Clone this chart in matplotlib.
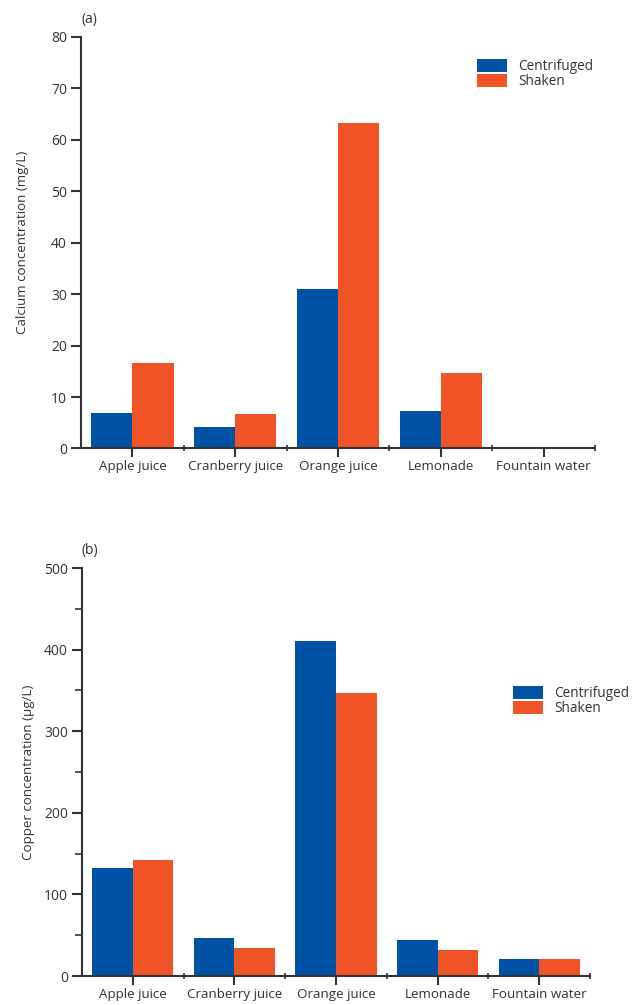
import matplotlib
matplotlib.use("Agg")
import matplotlib.pyplot as plt
import numpy as np
from matplotlib.ticker import MultipleLocator, FixedLocator

categories = ["Apple juice", "Cranberry juice", "Orange juice", "Lemonade", "Fountain water"]
series_names = ["Centrifuged", "Shaken"]
calcium_centrifuged = [6.9, 4.1, 31.1, 7.3, 0.0]
calcium_shaken = [16.7, 6.7, 63.2, 14.7, 0.0]
copper_centrifuged = [132, 47, 410, 44, 21]
copper_shaken = [142, 34, 347, 32, 21]

BLUE = "#0052A5"
ORANGE = "#F05326"
DARK = "#333333"

plt.rcParams['font.family'] = ['Open Sans', 'DejaVu Sans']
plt.rcParams['text.color'] = DARK
plt.rcParams['axes.labelcolor'] = DARK
plt.rcParams['xtick.color'] = DARK
plt.rcParams['ytick.color'] = DARK

fig = plt.figure(figsize=(6.35, 10.05), dpi=100)
W, H = 635, 1005
FS = 9.6

def ax_rect(l, r, t, b):
    return [l / W, 1 - b / H, (r - l) / W, (b - t) / H]

def draw(ax, c, s, ymax, ymajor, yminor, ylabel, panel, legend_anchor):
    x = np.arange(len(categories))
    w = 0.4
    ax.bar(x - w / 2, c, width=w, color=BLUE, label=series_names[0])
    ax.bar(x + w / 2, s, width=w, color=ORANGE, label=series_names[1])
    ax.set_xlim(-0.5, len(categories) - 0.5)
    ax.set_ylim(0, ymax)
    for sp in ["top", "right"]:
        ax.spines[sp].set_visible(False)
    for sp in ["left", "bottom"]:
        ax.spines[sp].set_color(DARK)
        ax.spines[sp].set_linewidth(1.5)
    ax.set_xticks(x)
    ax.set_xticklabels(categories, fontsize=FS)
    ax.xaxis.set_minor_locator(FixedLocator(np.arange(len(categories)) + 0.5))
    ax.tick_params(axis="x", which="major", length=6.5, width=1.5, direction="out", pad=2)
    ax.tick_params(axis="x", which="minor", length=4, width=1.2, direction="inout")
    ax.yaxis.set_major_locator(MultipleLocator(ymajor))
    if yminor:
        ax.yaxis.set_minor_locator(MultipleLocator(yminor))
        ax.tick_params(axis="y", which="minor", length=5, width=1.2)
    ax.tick_params(axis="y", which="major", length=7, width=1.5, labelsize=10, pad=3)
    ax.set_ylabel(ylabel, fontsize=FS)
    ax.text(0.0, 1.025, panel, transform=ax.transAxes, fontsize=10, ha="left", va="bottom")
    ax.legend(frameon=False, fontsize=FS + 0.2, handlelength=2.2, handleheight=1.1,
              labelspacing=0.0, handletextpad=0.8, borderaxespad=0,
              loc="upper left", bbox_to_anchor=legend_anchor)

ax1 = fig.add_axes(ax_rect(81, 595, 37, 448.5))
draw(ax1, calcium_centrifuged, calcium_shaken, 80, 10, None,
     "Calcium concentration (mg/L)", "(a)", (0.76, 0.96))
ax1.yaxis.set_label_coords(-0.101, 0.5)

ax2 = fig.add_axes(ax_rect(82, 590, 568, 976))
draw(ax2, copper_centrifuged, copper_shaken, 500, 100, 50,
     "Copper concentration (µg/L)", "(b)", (0.838, 0.725))
ax2.yaxis.set_label_coords(-0.0925, 0.5)

fig.savefig("out.png", dpi=100)
